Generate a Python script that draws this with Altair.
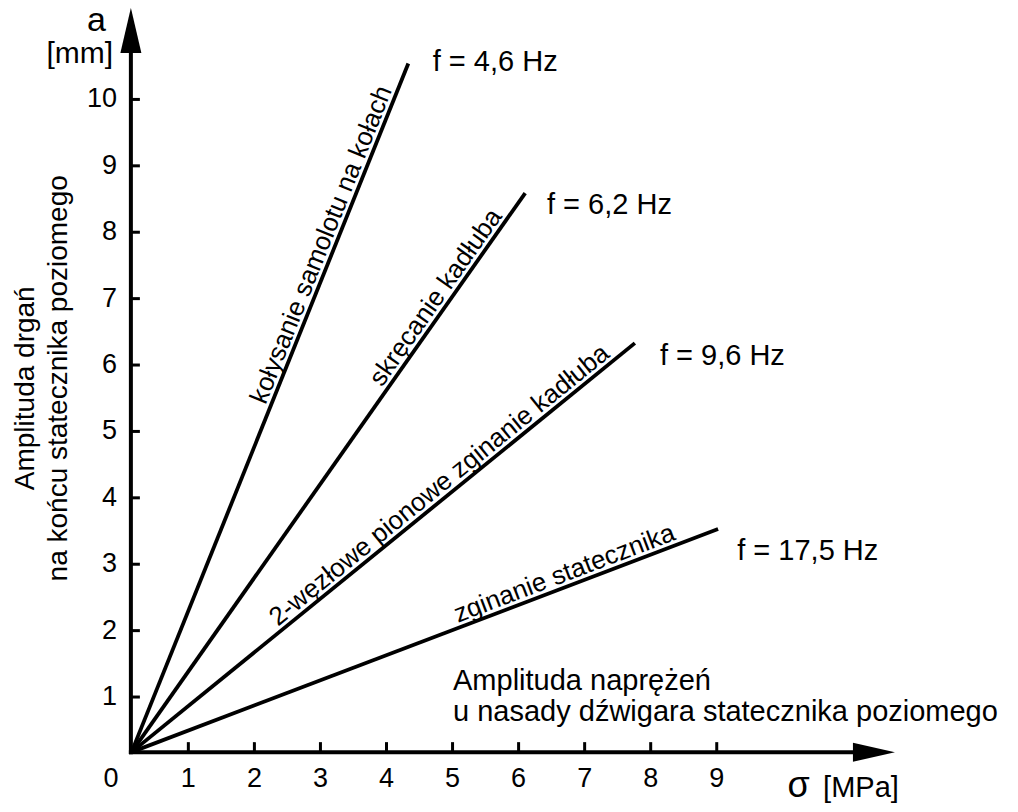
import math
import altair as alt
import pandas as pd

FONT = "Liberation Sans"

# ---------------- data ----------------
freq_labels = ["f = 4,6 Hz", "f = 6,2 Hz", "f = 9,6 Hz", "f = 17,5 Hz"]
mode_labels = ["kołysanie samolotu na kołach", "skręcanie kadłuba",
               "2-węzłowe pionowe zginanie kadłuba", "zginanie statecznika"]
line_start_sigma = [0.14, 0.14, 0.14, 0.14]
line_start_a = [0.17, 0.17, 0.17, 0.17]
line_end_sigma = [4.33, 6.10, 7.76, 9.02]
line_end_a = [10.54, 8.59, 6.33, 3.53]
mode_label_frac = [0.73, 0.80, 0.628, 0.746]      # position of label along each line
freq_label_sigma = [4.70, 6.43, 8.14, 9.31]
freq_label_a = [10.43, 8.27, 6.00, 3.06]

x_ticks = [1, 2, 3, 4, 5, 6, 7, 8, 9]
y_ticks = [1, 2, 3, 4, 5, 6, 7, 8, 9, 10]
axis_origin = [0.13, 0.17]          # where the two axes cross
x_axis_end = 11.11
y_axis_end = 10.74
x_arrow_center = 11.38
y_arrow_center = 11.04

# ---------------- geometry ----------------
W, H = 1000, 796
X_DOMAIN = [-1.7305, 13.4096]
Y_DOMAIN = [-0.611, 11.377]
PX_X = W / (X_DOMAIN[1] - X_DOMAIN[0])
PX_Y = H / (Y_DOMAIN[1] - Y_DOMAIN[0])

xs = alt.Scale(domain=X_DOMAIN, nice=False, zero=False)
ys = alt.Scale(domain=Y_DOMAIN, nice=False, zero=False)


def X(f="x"):
    return alt.X(f"{f}:Q", scale=xs, axis=None)


def Y(f="y"):
    return alt.Y(f"{f}:Q", scale=ys, axis=None)


layers = []

# axes lines
ox, oy = axis_origin
axes_df = pd.DataFrame({
    "x": [ox, ox], "y": [oy, oy],
    "x2": [ox, x_axis_end], "y2": [y_axis_end, oy],
})
layers.append(alt.Chart(axes_df).mark_rule(color="black", strokeWidth=4, strokeCap="square").encode(
    x=X(), y=Y(), x2="x2:Q", y2="y2:Q"))

# ticks
tick_len_x = 9 / PX_X
tick_len_y = 10 / PX_Y
yt_df = pd.DataFrame({"x": [ox] * len(y_ticks), "x2": [ox + tick_len_x] * len(y_ticks), "y": y_ticks})
layers.append(alt.Chart(yt_df).mark_rule(color="black", strokeWidth=3).encode(x=X(), x2="x2:Q", y=Y()))
xt_df = pd.DataFrame({"x": x_ticks, "y": [oy] * len(x_ticks), "y2": [oy + tick_len_y] * len(x_ticks)})
layers.append(alt.Chart(xt_df).mark_rule(color="black", strokeWidth=3).encode(x=X(), y=Y(), y2="y2:Q"))

# arrow heads
up_df = pd.DataFrame({"x": [ox], "y": [y_arrow_center]})
layers.append(alt.Chart(up_df).mark_point(
    shape="M 0 -1 L 0.467 1 L -0.467 1 Z", size=2025, filled=True, color="black", opacity=1, strokeWidth=0
).encode(x=X(), y=Y()))
right_df = pd.DataFrame({"x": [x_arrow_center], "y": [oy]})
layers.append(alt.Chart(right_df).mark_point(
    shape="M 1 0 L -1 -0.452 L -1 0.452 Z", size=1764, filled=True, color="black", opacity=1, strokeWidth=0
).encode(x=X(), y=Y()))

# tick labels
ytl_df = pd.DataFrame({"x": [-0.08] * len(y_ticks), "y": y_ticks, "t": [str(v) for v in y_ticks]})
layers.append(alt.Chart(ytl_df).mark_text(font=FONT, fontSize=27, align="right", baseline="middle", color="black").encode(
    x=X(), y=Y(), text="t:N"))
xtl_df = pd.DataFrame({"x": [-0.17] + x_ticks, "y": [-0.355] * (len(x_ticks) + 1),
                       "t": ["0"] + [str(v) for v in x_ticks]})
layers.append(alt.Chart(xtl_df).mark_text(font=FONT, fontSize=27, align="center", baseline="alphabetic", color="black").encode(
    x=X(), y=Y(), text="t:N"))

# data lines
lines_df = pd.DataFrame({"x": line_start_sigma, "y": line_start_a, "x2": line_end_sigma, "y2": line_end_a,
                         "f": freq_labels})
layers.append(alt.Chart(lines_df).mark_rule(color="black", strokeWidth=3.8).encode(
    x=X(), y=Y(), x2="x2:Q", y2="y2:Q", detail="f:N"))

# frequency labels
fl_df = pd.DataFrame({"x": freq_label_sigma, "y": freq_label_a, "t": freq_labels})
layers.append(alt.Chart(fl_df).mark_text(font=FONT, fontSize=29, align="left", baseline="alphabetic", color="black").encode(
    x=X(), y=Y(), text="t:N"))

# mode labels along the lines
mx, my, ang = [], [], []
for sx, sy, ex, ey, t in zip(line_start_sigma, line_start_a, line_end_sigma, line_end_a, mode_label_frac):
    mx.append(sx + t * (ex - sx))
    my.append(sy + t * (ey - sy))
    deg = math.degrees(math.atan2((ey - sy) * PX_Y, (ex - sx) * PX_X))
    ang.append(360 - deg)
ml_df = pd.DataFrame({"x": mx, "y": my, "a": ang, "t": mode_labels})
layers.append(alt.Chart(ml_df).mark_text(font=FONT, fontSize=26, align="center", baseline="alphabetic", dy=-5, color="black").encode(
    x=X(), y=Y(), text="t:N", angle=alt.Angle("a:Q", scale=None)))

# axis titles
ya_df = pd.DataFrame({"x": [-0.247], "y": [11.03], "t": ["a"]})
layers.append(alt.Chart(ya_df).mark_text(font=FONT, fontSize=34, align="right", baseline="alphabetic", color="black").encode(
    x=X(), y=Y(), text="t:N"))
ymm_df = pd.DataFrame({"x": [-0.14], "y": [10.55], "t": ["[mm]"]})
layers.append(alt.Chart(ymm_df).mark_text(font=FONT, fontSize=30, align="right", baseline="alphabetic", color="black").encode(
    x=X(), y=Y(), text="t:N"))
sig_df = pd.DataFrame({"x": [10.07], "y": [-0.503], "t": ["σ"]})
layers.append(alt.Chart(sig_df).mark_text(font=FONT, fontSize=36, align="left", baseline="alphabetic", color="black").encode(
    x=X(), y=Y(), text="t:N"))
mpa_df = pd.DataFrame({"x": [10.61], "y": [-0.503], "t": ["[MPa]"]})
layers.append(alt.Chart(mpa_df).mark_text(font=FONT, fontSize=29, align="left", baseline="alphabetic", color="black").encode(
    x=X(), y=Y(), text="t:N"))

# descriptive titles
xdesc_df = pd.DataFrame({"x": [5.007, 5.007], "y": [1.105, 0.639],
                         "t": ["Amplituda naprężeń", "u nasady dźwigara statecznika poziomego"]})
layers.append(alt.Chart(xdesc_df).mark_text(font=FONT, fontSize=29, align="left", baseline="alphabetic", color="black").encode(
    x=X(), y=Y(), text="t:N"))
ydesc_df = pd.DataFrame({"x": [-1.458, -0.958], "y": [5.65, 5.80],
                         "t": ["Amplituda drgań", "na końcu statecznika poziomego"]})
layers.append(alt.Chart(ydesc_df).mark_text(font=FONT, fontSize=28, align="center", baseline="middle", angle=270, color="black").encode(
    x=X(), y=Y(), text="t:N"))

chart = alt.layer(*layers).properties(
    width=W, height=H, padding=0, autosize=alt.AutoSizeParams(type="none"),
    background="white",
).configure_view(stroke=None)

chart.save("out.html", embed_options={"renderer": "svg", "actions": False})
